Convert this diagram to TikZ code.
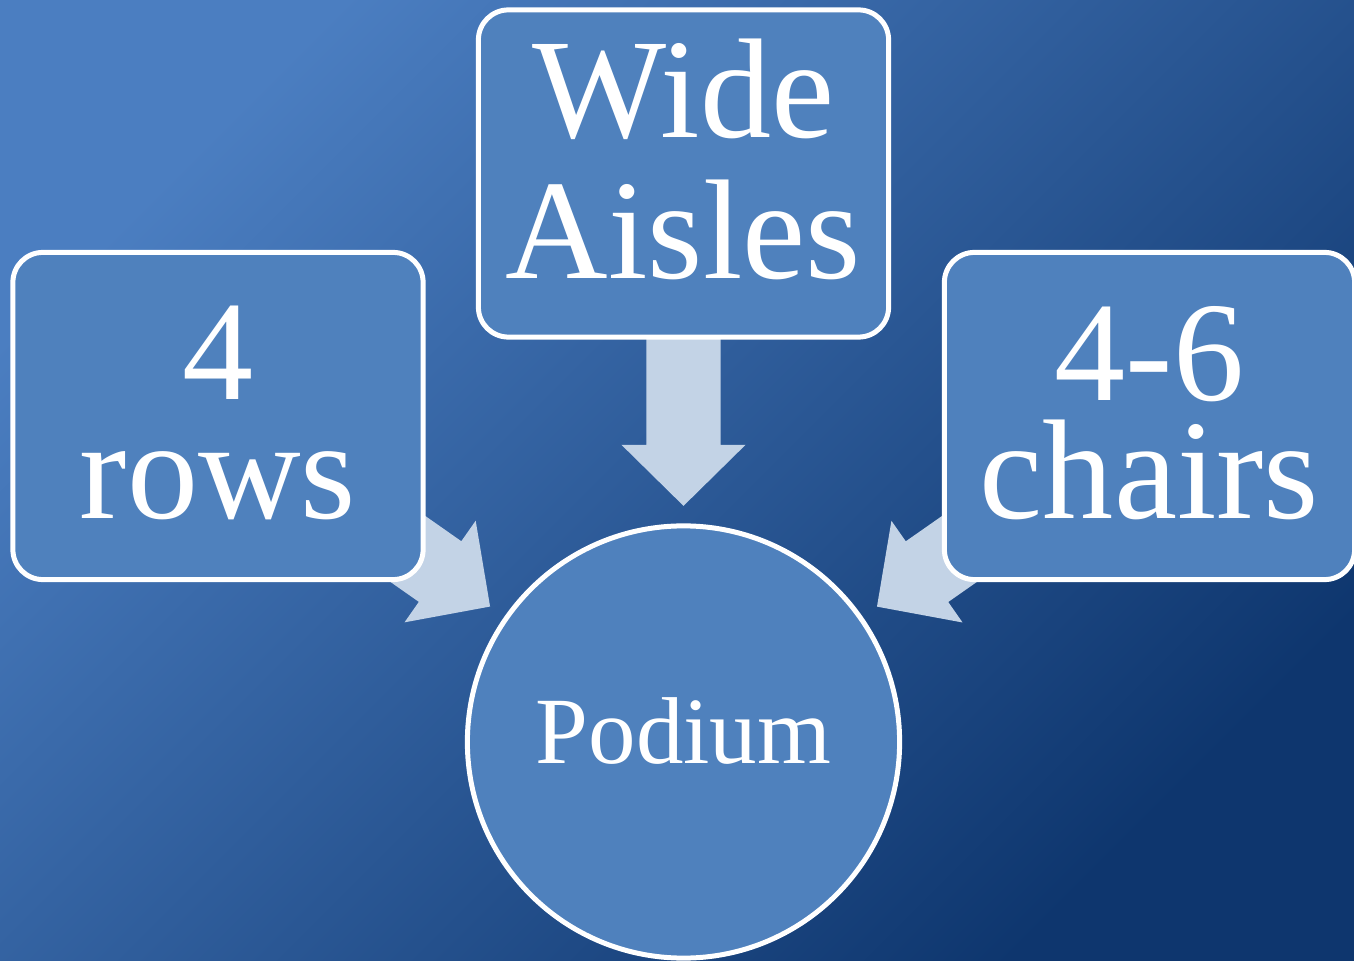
\documentclass[tikz,border=0pt]{standalone}
\usepackage{fontspec}
\setmainfont{Liberation Serif}
\usetikzlibrary{calc}
\definecolor{bgA}{HTML}{4B7EC1}
\definecolor{bgB}{HTML}{0E366E}
\definecolor{boxfill}{HTML}{4F81BD}
\definecolor{arrowfill}{HTML}{C3D3E6}
\tikzset{
  box/.style={draw=white, line width=0.05cm, fill=boxfill, rounded corners=0.3cm,
    minimum width=4.10cm, minimum height=3.27cm, inner sep=0pt},
  podiumshape/.style={draw=white, line width=0.05cm, fill=boxfill, circle,
    minimum size=4.32cm, inner sep=0pt},
  bigtxt/.style={text=white, align=center, inner sep=0pt},
  blockarrow/.style={fill=arrowfill, draw=none}
}
% block arrow from #1 (start, hidden under box) to #2 (tip)
\newcommand{\blockarr}[2]{%
  \path ($(#2)!0.61cm!(#1)$) coordinate (hb);
  \fill[blockarrow] ($(#1)!0.37cm!90:(#2)$) -- ($(hb)!0.37cm!90:(#2)$)
     -- ($(hb)!0.62cm!90:(#2)$) -- (#2) -- ($(hb)!0.62cm!-90:(#2)$)
     -- ($(hb)!0.37cm!-90:(#2)$) -- ($(#1)!0.37cm!-90:(#2)$) -- cycle;
}
\begin{document}
\begin{tikzpicture}[x=0.01cm,y=0.01cm]
\useasboundingbox (0,0) rectangle (1354,960);
\shade[shading=axis, top color=bgA, bottom color=bgB, shading angle=45]
  (0,0) rectangle (1354,960);

% node positions (pixel coords, y up)
\coordinate (cL) at (218,544);
\coordinate (cT) at (683.5,786.5);
\coordinate (cR) at (1149.5,544);
\node[podiumshape] (pod) at (683.5,218) {};

% arrow tips
\coordinate (tipL) at ($(pod.center)!2.36cm!(cL)$);
\coordinate (tipT) at ($(pod.center)!2.36cm!(cT)$);
\coordinate (tipR) at ($(pod.center)!2.36cm!(cR)$);

\blockarr{cL}{tipL}
\blockarr{cT}{tipT}
\blockarr{cR}{tipR}

\node[box] (rows) at (cL) {};
\node[box] (aisles) at (cT) {};
\node[box] (chairs) at (cR) {};

\node[bigtxt, font=\fontsize{40.4}{33.6}\selectfont] (rowsT) at ([yshift=0.03cm]rows.center) {4\\rows};
\node[bigtxt, font=\fontsize{40.4}{40.1}\selectfont] (aislesT) at ([yshift=0.14cm]aisles.center) {Wide\\Aisles};
\node[bigtxt, font=\fontsize{40.4}{33.6}\selectfont] (chairsT) at ([yshift=0.03cm]chairs.center) {4-6\\chairs};
\node[bigtxt, font=\fontsize{27}{32}\selectfont] (podT) at ([yshift=0.11cm]pod.center) {Podium};
\end{tikzpicture}
\end{document}
